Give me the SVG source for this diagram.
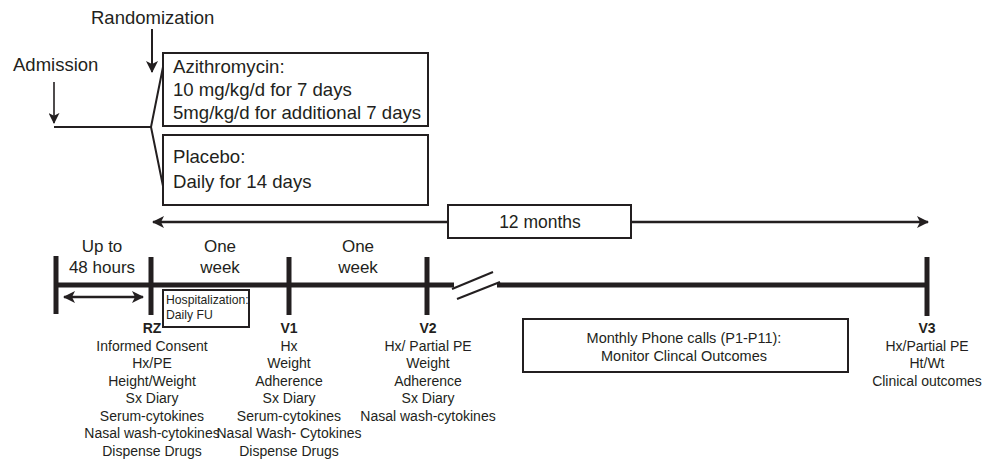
<svg xmlns="http://www.w3.org/2000/svg" width="985" height="466" viewBox="0 0 985 466">
<defs>
<style>
text{font-family:"Liberation Sans",Arial,sans-serif;fill:#231f20}
.l{font-size:17px}
.t{font-size:18.6px}
.h{font-size:18.5px}
.m{font-size:14px;text-anchor:middle}
.b{font-size:14px;font-weight:bold;text-anchor:middle}
.c{text-anchor:middle}
.box{fill:#fff;stroke:#231f20;stroke-width:2}
.ln{stroke:#231f20;fill:none}
</style>
<marker id="ah" viewBox="0 0 12 12" refX="11" refY="6" markerWidth="12" markerHeight="12" markerUnits="userSpaceOnUse" orient="auto-start-reverse">
<path d="M0,0 L12,6 L0,12 L3,6 Z" fill="#231f20"/>
</marker>
<marker id="ahs" viewBox="0 0 12 12" refX="11" refY="6" markerWidth="11" markerHeight="11" markerUnits="userSpaceOnUse" orient="auto-start-reverse">
<path d="M0,0 L12,6 L0,12 L3,6 Z" fill="#231f20"/>
</marker>
</defs>
<rect width="985" height="466" fill="#fff"/>

<g id="connectors">
<line class="ln" x1="152" y1="29" x2="152" y2="72" stroke-width="2" marker-end="url(#ah)"/>
<line class="ln" x1="54" y1="82" x2="54" y2="123" stroke-width="1.6" marker-end="url(#ahs)"/>
<polyline class="ln" points="54,127 151,127" stroke-width="2"/>
<polyline class="ln" points="163,67 151,127 163,186" stroke-width="2"/>
<line class="ln" x1="153" y1="222" x2="928" y2="222" stroke-width="2.4" marker-start="url(#ah)" marker-end="url(#ah)"/>
<line class="ln" x1="56" y1="285" x2="454" y2="285" stroke-width="5"/>
<line class="ln" x1="497" y1="285" x2="929" y2="285" stroke-width="5"/>
<line class="ln" x1="452" y1="289" x2="493" y2="272" stroke-width="2"/>
<line class="ln" x1="457" y1="299" x2="500" y2="282" stroke-width="2"/>
<line class="ln" x1="56" y1="256" x2="56" y2="314" stroke-width="5"/>
<line class="ln" x1="151" y1="257" x2="151" y2="315" stroke-width="5"/>
<line class="ln" x1="289" y1="257" x2="289" y2="315" stroke-width="5"/>
<line class="ln" x1="427" y1="257" x2="427" y2="315" stroke-width="5"/>
<line class="ln" x1="927" y1="257" x2="927" y2="316" stroke-width="5"/>
<line class="ln" x1="64" y1="297" x2="143" y2="297" stroke-width="2.4" marker-start="url(#ah)" marker-end="url(#ah)"/>
</g>

<g id="randomization"><text class="h" x="91" y="24">Randomization</text></g>
<g id="admission"><text class="h" x="13" y="71">Admission</text></g>

<g id="azithromycin">
<rect class="box" x="163" y="53" width="265" height="73"/>
<text class="t" x="173" y="73">Azithromycin:</text>
<text class="t" x="173" y="96">10 mg/kg/d for 7 days</text>
<text class="t" x="173" y="119">5mg/kg/d for additional 7 days</text>
</g>

<g id="placebo">
<rect class="box" x="163" y="135" width="265" height="70"/>
<text class="t" x="173" y="163">Placebo:</text>
<text class="t" x="173" y="188">Daily for 14 days</text>
</g>

<g id="months12">
<rect class="box" x="448" y="205" width="183" height="33"/>
<text class="c" x="540" y="228" style="font-size:17.5px">12 months</text>
</g>

<g id="intervals">
<text class="l c" x="102" y="252">Up to</text>
<text class="l c" x="102" y="273">48 hours</text>
<text class="l c" x="220" y="252">One</text>
<text class="l c" x="220" y="273">week</text>
<text class="l c" x="358" y="252">One</text>
<text class="l c" x="358" y="273">week</text>
</g>

<g id="hospitalization">
<rect class="box" x="163" y="290" width="86" height="37"/>
<text x="166" y="304" style="font-size:12.2px">Hospitalization:</text>
<text x="166" y="319" style="font-size:12.2px">Daily FU</text>
</g>

<g id="rz">
<text class="b" x="152" y="333">RZ</text>
<text class="m" x="152" y="351">Informed Consent</text>
<text class="m" x="152" y="368">Hx/PE</text>
<text class="m" x="152" y="386">Height/Weight</text>
<text class="m" x="152" y="403">Sx Diary</text>
<text class="m" x="152" y="421">Serum-cytokines</text>
<text class="m" x="152" y="438">Nasal wash-cytokines</text>
<text class="m" x="152" y="456">Dispense Drugs</text>
</g>

<g id="v1">
<text class="b" x="289" y="333">V1</text>
<text class="m" x="289" y="351">Hx</text>
<text class="m" x="289" y="368">Weight</text>
<text class="m" x="289" y="386">Adherence</text>
<text class="m" x="289" y="403">Sx Diary</text>
<text class="m" x="289" y="421">Serum-cytokines</text>
<text class="m" x="289" y="438">Nasal Wash- Cytokines</text>
<text class="m" x="289" y="456">Dispense Drugs</text>
</g>

<g id="v2">
<text class="b" x="428" y="333">V2</text>
<text class="m" x="428" y="351">Hx/ Partial PE</text>
<text class="m" x="428" y="368">Weight</text>
<text class="m" x="428" y="386">Adherence</text>
<text class="m" x="428" y="403">Sx Diary</text>
<text class="m" x="428" y="421">Nasal wash-cytokines</text>
</g>

<g id="phone">
<rect class="box" x="523" y="319" width="325" height="53"/>
<text class="c" x="684" y="343" style="font-size:14.5px">Monthly Phone calls (P1-P11):</text>
<text class="c" x="684" y="361" style="font-size:14.5px">Monitor Clincal Outcomes</text>
</g>

<g id="v3">
<text class="b" x="927" y="333">V3</text>
<text class="m" x="927" y="351">Hx/Partial PE</text>
<text class="m" x="927" y="368">Ht/Wt</text>
<text class="m" x="927" y="386">Clinical outcomes</text>
</g>
</svg>
